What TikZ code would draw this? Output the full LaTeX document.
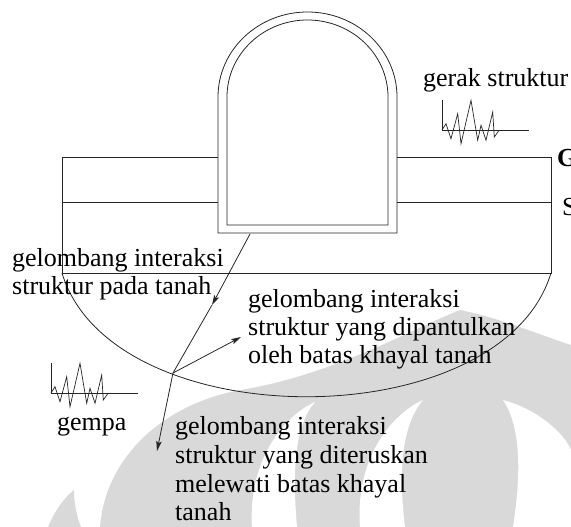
\documentclass[tikz,border=0pt]{standalone}
\usepackage{fontspec}
\setmainfont{Liberation Serif}
\usetikzlibrary{arrows.meta}
\begin{document}
\begin{tikzpicture}[x=1pt,y=-1pt,
  line/.style={line width=0.8pt, draw=black!85},
  lbl/.style={inner sep=0pt, anchor=base west, font=\fontsize{26}{28.5}\selectfont},
  boldlbl/.style={lbl, font=\fontsize{26}{28.5}\selectfont\bfseries},
  wm/.style={fill=black!15},
  hole/.style={fill=white},
  wave/.style={line width=0.8pt, draw=black!85, -{Stealth[length=10pt,width=5.5pt,inset=2pt]}},
  ]
\useasboundingbox (0,0) rectangle (571,527);

% background emblem
\fill[wm] (100,527) .. controls (105,460) and (160,405) .. (240,390)
  .. controls (330,376) and (410,330) .. (460,310)
  .. controls (500,318) and (540,335) .. (571,345) -- (571,527) -- cycle;
\fill[hole] (315,402) .. controls (280,418) and (248,465) .. (252,527) -- (297,527)
  .. controls (292,470) and (295,425) .. (315,402) -- cycle;
\fill[hole] (423,400) .. controls (390,415) and (355,460) .. (360,527) -- (405,527)
  .. controls (398,470) and (402,425) .. (423,400) -- cycle;
\fill[hole] (503,400) .. controls (540,410) and (565,435) .. (571,450) -- (571,527) -- (513,527)
  .. controls (522,470) and (520,425) .. (503,400) -- cycle;
\fill[wm] (48,527) .. controls (55,510) and (65,497) .. (74,490)
  .. controls (74,500) and (76,515) .. (81,527) -- cycle;

% soil layers
\coordinate (tl) at (62,157);
\coordinate (ml) at (62,202);
\coordinate (bl) at (62,273);
\coordinate (tr) at (551,157);
\coordinate (mr) at (551,202);
\coordinate (br) at (551,273);
\draw[line] (tl) -- (218,157);
\draw[line] (397,157) -- (tr);
\draw[line] (ml) -- (218,202);
\draw[line] (397,202) -- (mr);
\draw[line] (tl) -- (bl) -- (br) -- (tr);
\draw[line] (bl) .. controls (112,438) and (501,438) .. (br);

% structure
\draw[line] (218,233) -- (218,97) arc[start angle=180, end angle=0, x radius=89.5pt, y radius=85pt]
  -- (397,233) -- cycle;
\draw[line] (227,225) -- (227,97) arc[start angle=180, end angle=0, x radius=80.5pt, y radius=77pt]
  -- (388,225) -- cycle;

% wave paths
\coordinate (src) at (250,234);
\coordinate (mid) at (212,305);
\coordinate (hit) at (173,373);
\coordinate (refl) at (241,337);
\coordinate (trans) at (157,451);
\draw[wave] (src) -- (mid);
\draw[line] (mid) -- (hit);
\draw[wave] (hit) -- (refl);
\draw[wave] (hit) -- (trans);

% seismograms
\draw[line] (51,363) -- (51,393) -- (138,393);
\draw[line, line width=0.7pt] (51,393) -- (55,386.7) -- (60,401.7) -- (66.7,376.7) -- (70,406.7)
  -- (80,363.3) -- (86.7,403.3) -- (90,388.3) -- (95,403.3) -- (101.7,375) -- (103.3,400) -- (108.3,393);
\begin{scope}[shift={(391,-263)}]
\draw[line] (51,363) -- (51,393) -- (138,393);
\draw[line, line width=0.7pt] (51,393) -- (55,386.7) -- (60,401.7) -- (66.7,376.7) -- (70,406.7)
  -- (80,363.3) -- (86.7,403.3) -- (90,388.3) -- (95,403.3) -- (101.7,375) -- (103.3,400) -- (108.3,393);
\end{scope}

% labels
\node[lbl] (gerak) at (423,87) {gerak struktur};
\node[boldlbl] (layerG) at (557,166) {G};
\node[lbl] (layerS) at (562,215) {S};
\node[lbl] (in1) at (12,266) {gelombang interaksi};
\node[lbl] (in2) at (12,294) {struktur pada tanah};
\node[lbl] (re1) at (248,307) {gelombang interaksi};
\node[lbl] (re2) at (248,335) {struktur yang dipantulkan};
\node[lbl] (re3) at (248,363) {oleh batas khayal tanah};
\node[lbl] (gempa) at (57,430) {gempa};
\node[lbl] (tr1) at (175,434) {gelombang interaksi};
\node[lbl] (tr2) at (175,463) {struktur yang diteruskan};
\node[lbl] (tr3) at (175,492) {melewati batas khayal};
\node[lbl] (tr4) at (175,520) {tanah};
\end{tikzpicture}
\end{document}
